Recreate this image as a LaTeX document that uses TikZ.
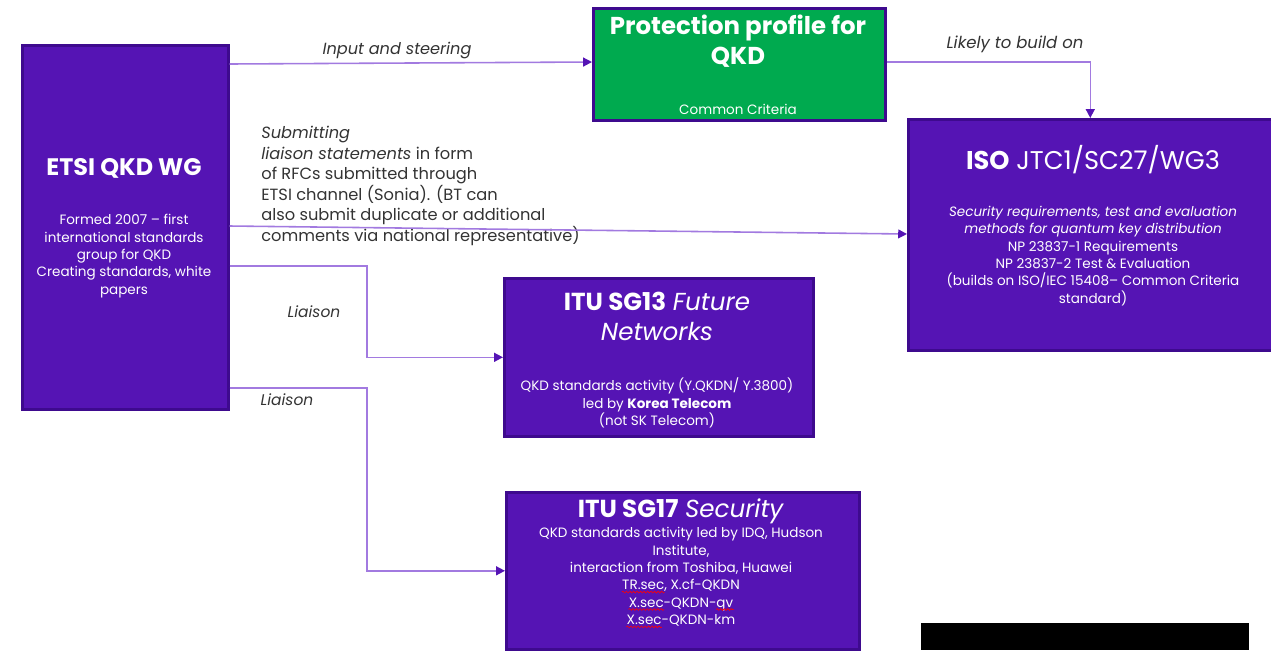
\documentclass[tikz,border=0pt]{standalone}
\usepackage{fontspec}
\setmainfont{Poppins}
\usetikzlibrary{arrows.meta,decorations.pathmorphing}

\definecolor{btpurple}{HTML}{5514B4}
\definecolor{btdark}{HTML}{3E0A8E}
\definecolor{btgreen}{HTML}{00AA4F}
\definecolor{linkc}{HTML}{A27AE0}

% spell-check squiggle under a word
\newcommand{\spellmark}[1]{\tikz[baseline=(w.base)]{\node[inner sep=0pt] (w) {#1};
    \draw[red,line width=0.35pt,overlay,decorate,decoration={snake,amplitude=0.5pt,segment length=2pt}]
    ([yshift=-1.2pt]w.base west) -- ([yshift=-1.2pt]w.base east);}}

\begin{document}
\begin{tikzpicture}[x=0.02cm,y=-0.02cm,
    box/.style={draw=btdark,line width=1.5pt,fill=btpurple,anchor=north west,inner sep=0pt},
    boxtitle/.style={text=white,font=\bfseries\fontsize{14}{17}\selectfont,align=center},
    boxbody/.style={text=white,font=\fontsize{7.7}{9.9}\selectfont,align=center},
    lbl/.style={text=black!80,font=\itshape\fontsize{9.2}{11}\selectfont},
    link/.style={draw=linkc,line width=0.9pt,-{Triangle[length=5pt,width=5pt,color=btpurple]}}]
    \useasboundingbox (0,0) rectangle (1271,650);
    % boxes
    \node[box,minimum width=4.12cm,minimum height=7.28cm] (etsi) at (21,44) {};
    \node[box,fill=btgreen,minimum width=5.84cm,minimum height=2.24cm] (pp) at (592,7) {};
    \node[box,minimum width=7.28cm,minimum height=4.62cm] (iso) at (907,118) {};
    \node[box,minimum width=6.18cm,minimum height=3.16cm] (sg13) at (503,277) {};
    \node[box,minimum width=7.06cm,minimum height=3.14cm] (sg17) at (505,491) {};
    \fill[black] (921,623) rectangle (1249,650);

    % box texts
    \node[boxtitle,font=\bfseries\fontsize{13.6}{17}\selectfont] (etsiT) at (124,168) {ETSI QKD WG};
    \node[boxbody] (etsiB) at (124,256) {Formed 2007 -- first\\international standards\\group for QKD\\Creating standards, white\\papers};
    \node[boxtitle,font=\bfseries\fontsize{13.9}{17}\selectfont] (ppT) at (738,41) {Protection profile for\\QKD};
    \node[boxbody] (ppB) at (738,109) {Common Criteria};
    \node[boxtitle,font=\fontsize{14.6}{17}\selectfont] (isoT) at (1093,160) {\textbf{ISO} JTC1/SC27/WG3};
    \node[boxbody] (isoB) at (1093,256) {\textit{Security requirements, test and evaluation}\\\textit{methods for quantum key distribution}\\NP 23837-1 Requirements\\NP 23837-2 Test \& Evaluation\\(builds on ISO/IEC 15408-- Common Criteria\\standard)};
    \node[boxtitle,font=\fontsize{14}{17}\selectfont] (sg13T) at (657,316) {\textbf{ITU SG13} \textit{Future}\\\textit{Networks}};
    \node[boxbody] (sg13B) at (657,403) {QKD standards activity (Y.QKDN/ Y.3800)\\led by \textbf{Korea Telecom}\\(not SK Telecom)};
    \node[boxtitle,font=\fontsize{14}{17}\selectfont] (sg17T) at (681,511) {\textbf{ITU SG17} \textit{Security}};
    \node[boxbody] (sg17B) at (681,577) {QKD standards activity led by IDQ, Hudson\\Institute,\\interaction from Toshiba, Huawei\\\spellmark{TR.sec}, X.cf-QKDN\\\spellmark{X.sec}-QKDN-\spellmark{qv}\\\spellmark{X.sec}-QKDN-km};

    % connector labels
    \node[lbl] (inL) at (397,51) {Input and steering};
    \node[lbl,font=\itshape\fontsize{9.4}{11}\selectfont] (buildL) at (1015,44) {Likely to build on};
    \node[lbl,font=\fontsize{9.25}{11.7}\selectfont,anchor=north west,align=left,inner sep=0pt] (subL) at (261,126)
        {\textit{Submitting}\\\textit{liaison statements} in form\\of RFCs submitted through\\ETSI channel (Sonia). (BT can\\also submit duplicate or additional\\comments via national representative)};
    \node[lbl,font=\itshape\fontsize{8.8}{11}\selectfont] (liaL1) at (314,312) {Liaison};
    \node[lbl,font=\itshape\fontsize{8.8}{11}\selectfont] (liaL2) at (287,400) {Liaison};

    % connectors
    \coordinate (bend) at (367,0);
    \draw[link] (etsi.east |- 0,64) -- (pp.west |- 0,62);
    \draw[link] (pp.east |- 0,62) -| (iso.north);
    \draw[link] (etsi.east |- 0,226) -- (iso.west |- 0,234);
    \draw[link] (etsi.east |- 0,266) -| (bend |- sg13.west) -- (sg13.west);
    \draw[link] (etsi.east |- 0,388) -| (bend |- sg17.west) -- (sg17.west);
\end{tikzpicture}
\end{document}
